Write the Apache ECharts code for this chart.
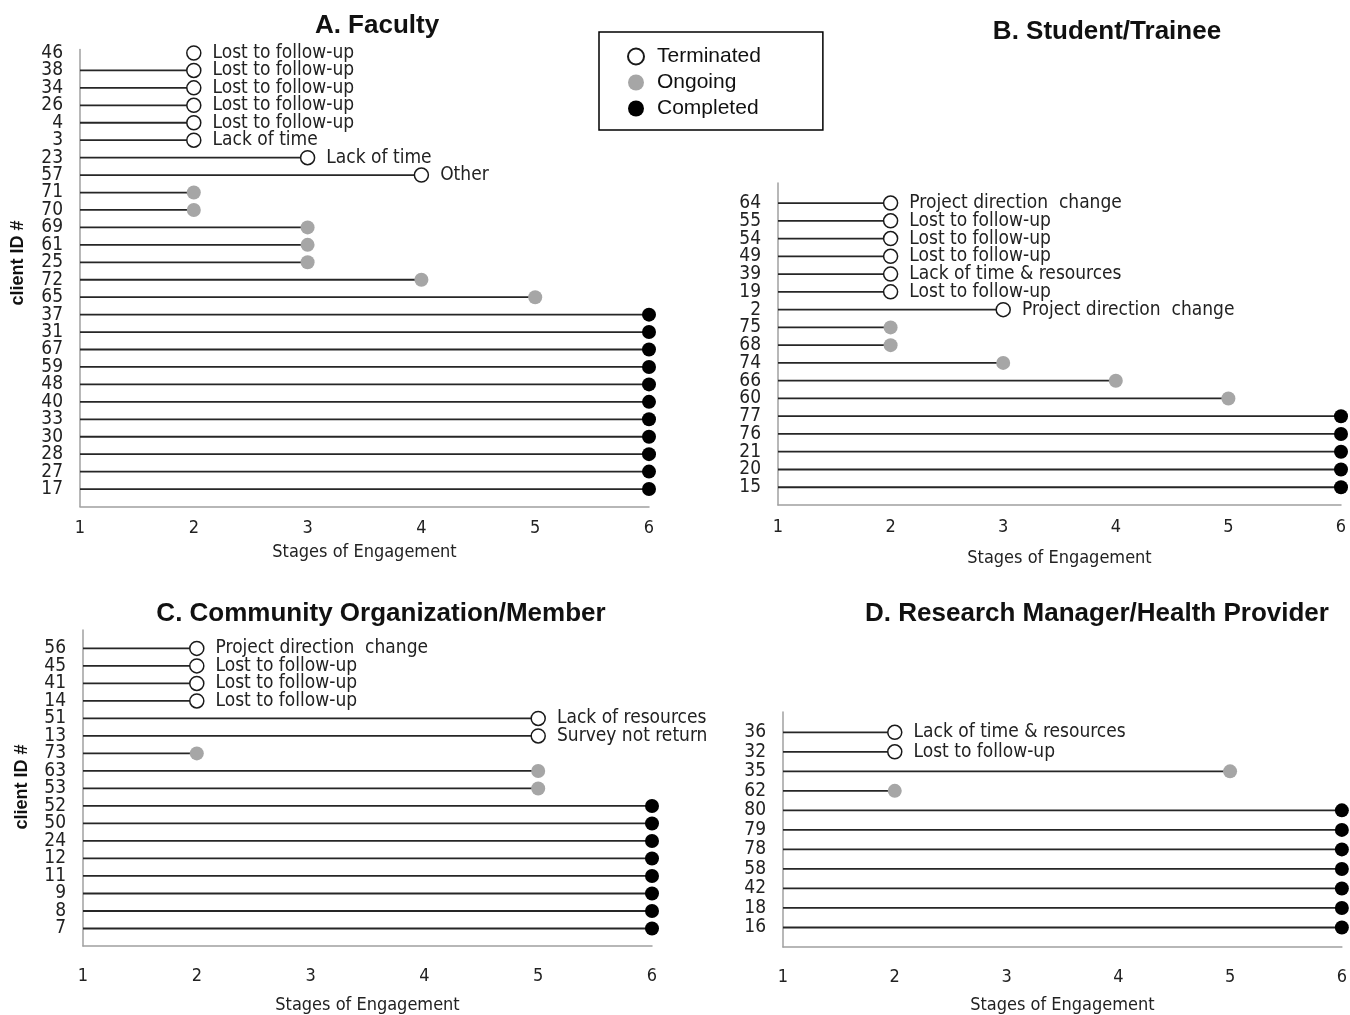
<!DOCTYPE html>
<html>
<head>
<meta charset="utf-8">
<script src="https://cdn.jsdelivr.net/npm/echarts@6/dist/echarts.min.js"></script>
<style>html,body{margin:0;padding:0;background:#fff}#c{width:1350px;height:1015px}</style>
</head>
<body>
<div id="c"></div>
<script>
// ---------- DATA ----------
const stageTicks = [1, 2, 3, 4, 5, 6];
const statusNames = ['Terminated', 'Ongoing', 'Completed'];

// A. Faculty (top to bottom)
const facultyIds = ['46','38','34','26','4','3','23','57','71','70','69','61','25','72','65','37','31','67','59','48','40','33','30','28','27','17'];
const facultyStages = [2,2,2,2,2,2,3,4,2,2,3,3,3,4,5,6,6,6,6,6,6,6,6,6,6,6];
const facultyStatus = ['Terminated','Terminated','Terminated','Terminated','Terminated','Terminated','Terminated','Terminated',
  'Ongoing','Ongoing','Ongoing','Ongoing','Ongoing','Ongoing','Ongoing',
  'Completed','Completed','Completed','Completed','Completed','Completed','Completed','Completed','Completed','Completed','Completed'];
const facultyReasons = ['Lost to follow-up','Lost to follow-up','Lost to follow-up','Lost to follow-up','Lost to follow-up','Lack of time','Lack of time','Other'];
const facultyNoLine = ['46'];

// B. Student/Trainee
const studentIds = ['64','55','54','49','39','19','2','75','68','74','66','60','77','76','21','20','15'];
const studentStages = [2,2,2,2,2,2,3,2,2,3,4,5,6,6,6,6,6];
const studentStatus = ['Terminated','Terminated','Terminated','Terminated','Terminated','Terminated','Terminated',
  'Ongoing','Ongoing','Ongoing','Ongoing','Ongoing',
  'Completed','Completed','Completed','Completed','Completed'];
const studentReasons = ['Project direction  change','Lost to follow-up','Lost to follow-up','Lost to follow-up','Lack of time & resources','Lost to follow-up','Project direction  change'];

// C. Community Organization/Member
const communityIds = ['56','45','41','14','51','13','73','63','53','52','50','24','12','11','9','8','7'];
const communityStages = [2,2,2,2,5,5,2,5,5,6,6,6,6,6,6,6,6];
const communityStatus = ['Terminated','Terminated','Terminated','Terminated','Terminated','Terminated',
  'Ongoing','Ongoing','Ongoing',
  'Completed','Completed','Completed','Completed','Completed','Completed','Completed','Completed'];
const communityReasons = ['Project direction  change','Lost to follow-up','Lost to follow-up','Lost to follow-up','Lack of resources','Survey not return'];

// D. Research Manager/Health Provider
const managerIds = ['36','32','35','62','80','79','78','58','42','18','16'];
const managerStages = [2,2,5,2,6,6,6,6,6,6,6];
const managerStatus = ['Terminated','Terminated','Ongoing','Ongoing',
  'Completed','Completed','Completed','Completed','Completed','Completed','Completed'];
const managerReasons = ['Lack of time & resources','Lost to follow-up'];

const panelTitles = ['A. Faculty', 'B. Student/Trainee', 'C. Community Organization/Member', 'D. Research Manager/Health Provider'];
const xAxisTitle = 'Stages of Engagement';
const yAxisTitle = 'client ID #';

// ---------- LAYOUT / STYLE ----------
const NARROW = "'Liberation Sans Narrow','Arial Narrow','DejaVu Sans Condensed',sans-serif";
const SANS = "'Liberation Sans',Arial,sans-serif";
const panels = [
  {ids: facultyIds, stages: facultyStages, status: facultyStatus, reasons: facultyReasons, noLine: facultyNoLine,
   grid: {left: 80, top: 49.5, width: 569, height: 457}, pad: 0.2, nameGap: 37, tickMargin: 13,
   title: {x: 372, y: 8}, yName: {x: 18, y: 263}},
  {ids: studentIds, stages: studentStages, status: studentStatus, reasons: studentReasons, noLine: [],
   grid: {left: 778, top: 183, width: 563, height: 322}, pad: 1.13, nameGap: 44, tickMargin: 13,
   title: {x: 1102, y: 14}, yName: null},
  {ids: communityIds, stages: communityStages, status: communityStatus, reasons: communityReasons, noLine: [],
   grid: {left: 83, top: 630, width: 569, height: 326}, pad: 1.05, nameGap: 50, tickMargin: 21,
   title: {x: 376, y: 596}, yName: {x: 22, y: 787}},
  {ids: managerIds, stages: managerStages, status: managerStatus, reasons: managerReasons, noLine: [],
   grid: {left: 783, top: 712, width: 561, height: 242}, pad: 1.04, nameGap: 49, tickMargin: 21,
   title: {x: 1092, y: 596}, yName: null}
];

const markerStyles = {
  Terminated: {color: '#ffffff', borderColor: '#1a1a1a', borderWidth: 1.5},
  Ongoing: {color: '#a6a6a6', borderWidth: 0},
  Completed: {color: '#000000', borderWidth: 0}
};

const grids = [], xAxes = [], yAxes = [], series = [], titles = [], graphics = [];
panels.forEach((p, k) => {
  const N = p.ids.length;
  grids.push(Object.assign({containLabel: false}, p.grid));
  titles.push({text: panelTitles[k], left: p.title.x, top: p.title.y, textAlign: 'center',
    textStyle: {fontFamily: SANS, fontSize: 26, fontWeight: 'bold', color: '#111'}});
  if (p.yName) {
    graphics.push({type: 'text', x: p.yName.x, y: p.yName.y, rotation: Math.PI / 2,
      style: {text: yAxisTitle, fontFamily: SANS, fontSize: 18, fontWeight: 'bold', fill: '#111',
        align: 'center', verticalAlign: 'middle'}});
  }
  xAxes.push({
    type: 'value', gridIndex: k, min: stageTicks[0], max: stageTicks[stageTicks.length - 1], interval: 1,
    name: xAxisTitle, nameLocation: 'middle', nameGap: p.nameGap,
    nameTextStyle: {fontFamily: NARROW, fontSize: 18, color: '#222'},
    axisLine: {show: true, lineStyle: {color: '#a0a0a0', width: 1.5}},
    axisTick: {show: false}, splitLine: {show: false},
    axisLabel: {margin: p.tickMargin, fontFamily: NARROW, fontSize: 18, color: '#222'}
  });
  yAxes.push({
    type: 'value', gridIndex: k, min: 0, max: N + p.pad, interval: 1,
    axisLine: {show: true, lineStyle: {color: '#a0a0a0', width: 1.5}},
    axisTick: {show: false}, splitLine: {show: false},
    axisLabel: {margin: 17, fontFamily: NARROW, fontSize: 19, color: '#222', showMaxLabel: false, showMinLabel: false,
      formatter: v => (Number.isInteger(v) && v >= 1 && v <= N) ? p.ids[N - v] : ''}
  });
  // stems
  const stemData = [];
  p.ids.forEach((id, i) => { if (p.noLine.indexOf(id) < 0) stemData.push([p.stages[i], N - i]); });
  series.push({
    type: 'custom', xAxisIndex: k, yAxisIndex: k, z: 1, silent: true,
    encode: {x: 0, y: 1}, data: stemData,
    renderItem: (params, api) => {
      const a = api.coord([stageTicks[0], api.value(1)]);
      const b = api.coord([api.value(0), api.value(1)]);
      return {type: 'line', shape: {x1: a[0], y1: a[1], x2: b[0], y2: b[1]},
        style: {stroke: '#262626', lineWidth: 1.8}};
    }
  });
  // markers
  statusNames.forEach(st => {
    const data = [];
    p.ids.forEach((id, i) => {
      if (p.status[i] === st) data.push([p.stages[i], N - i, p.reasons[i] || '']);
    });
    series.push({
      type: 'scatter', name: st, xAxisIndex: k, yAxisIndex: k, z: 3,
      symbol: 'circle', symbolSize: 14, data: data,
      itemStyle: Object.assign({opacity: 1}, markerStyles[st]),
      label: {show: st === 'Terminated', position: 'right', distance: 11,
        fontFamily: NARROW, fontSize: 19, color: '#222',
        formatter: d => d.value[2]}
    });
  });
});

const chart = echarts.init(document.getElementById('c'), null, {renderer: 'canvas'});
chart.setOption({
  backgroundColor: '#ffffff',
  animation: false,
  title: titles,
  graphic: graphics,
  legend: {
    data: statusNames, orient: 'vertical', left: 599, top: 32,
    borderColor: '#000', borderWidth: 1.5, borderRadius: 0,
    padding: [14, 62, 11, 28], itemGap: 5, itemWidth: 16, itemHeight: 16, icon: 'circle',
    textStyle: {fontFamily: SANS, fontSize: 21, color: '#111', padding: [0, 0, 0, 8]}
  },
  grid: grids,
  xAxis: xAxes,
  yAxis: yAxes,
  series: series
});
</script>
</body>
</html>
